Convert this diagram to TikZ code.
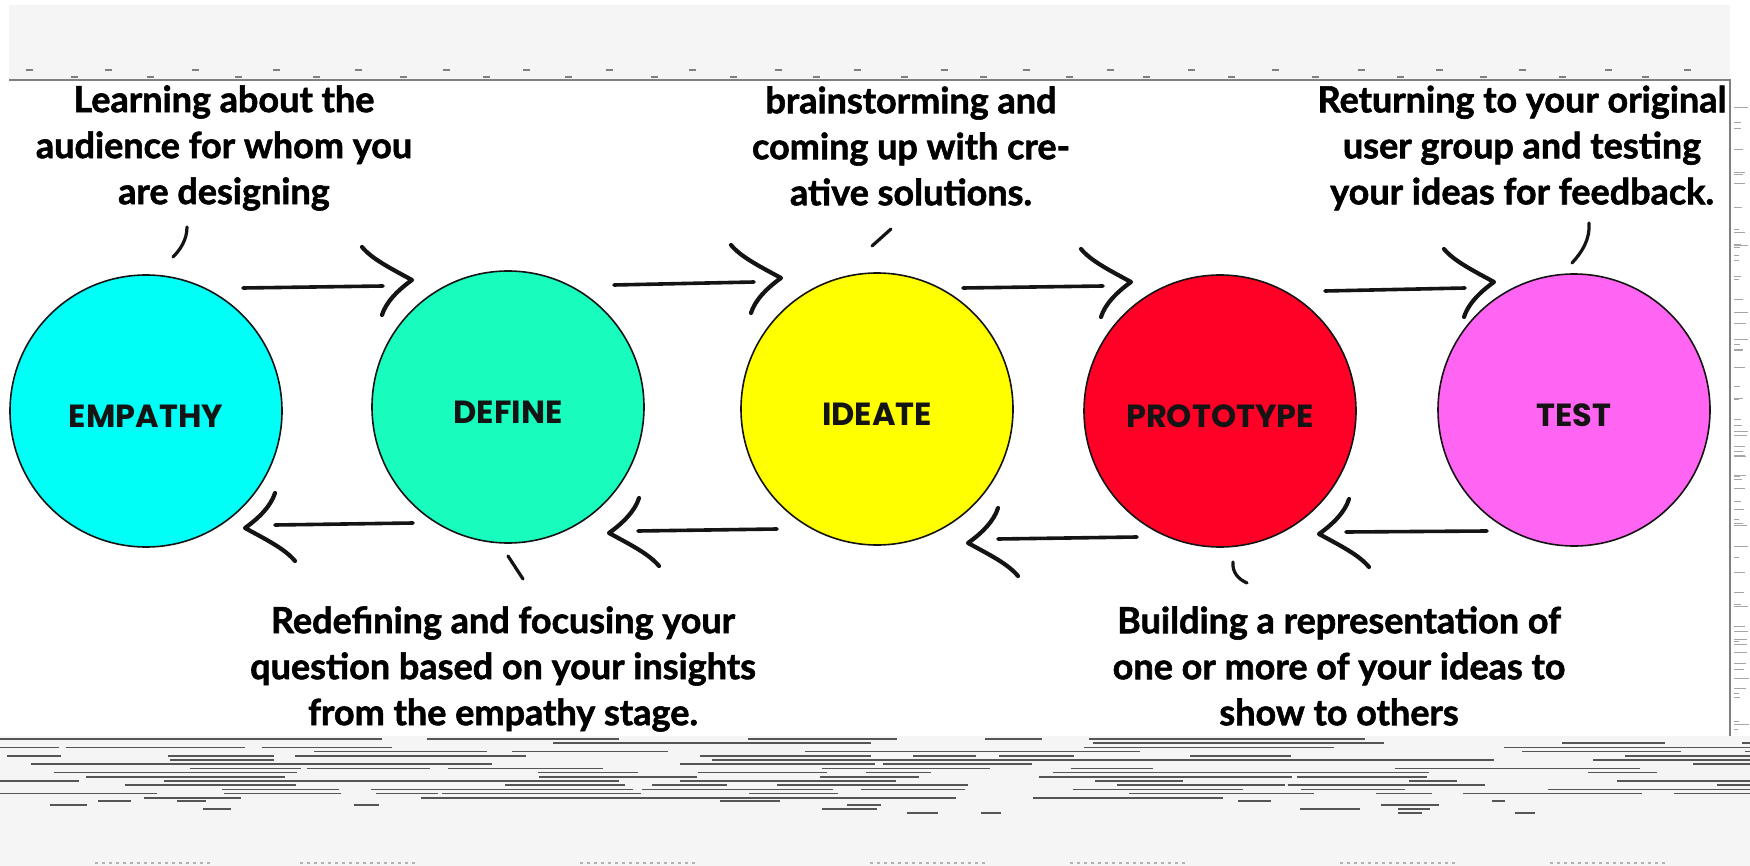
\documentclass[tikz,border=0pt]{standalone}
\usepackage{fontspec}
\setmainfont{Lato}[BoldFeatures={FakeBold=1.6}]
\newfontfamily\labelfont{Poppins}
\usetikzlibrary{calc}

\definecolor{empcol}{RGB}{0,255,246}
\definecolor{defcol}{RGB}{24,252,190}
\definecolor{idecol}{RGB}{255,255,0}
\definecolor{procol}{RGB}{255,0,38}
\definecolor{tstcol}{RGB}{255,100,242}
\definecolor{bandgray}{RGB}{245,245,245}
\definecolor{inkgray}{RGB}{85,85,85}
\definecolor{ink}{RGB}{20,20,20}

\begin{document}
\begin{tikzpicture}[x=1pt,y=-1pt,
  stage/.style={circle,draw=ink,line width=1.6pt,minimum size=272pt,inner sep=0pt,
    font=\labelfont\bfseries\fontsize{32}{33}\selectfont,text=ink,
    text height=33pt,text depth=0pt},
  note/.style={align=center,inner sep=0pt,text=black,
    font=\bfseries\fontsize{36}{46}\selectfont},
  shaft/.style={line width=3.6pt,line cap=round,draw=ink},
  tickmark/.style={line width=3.2pt,line cap=round,draw=ink},
  bandline/.style={line width=1.5pt,draw=inkgray},
  chev/.pic={\draw[line width=4.2pt,line cap=round,line join=round,draw=ink]
    (-50,-33) .. controls (-40,-21) and (-22,-12) .. (0,0)
    .. controls (-14,10) and (-26,22) .. (-30,35);}
]
\useasboundingbox (0,0) rectangle (1750,866);
\fill[white] (0,0) rectangle (1750,866);

% top band with its scattered specks
\fill[bandgray] (9,5) rectangle (1730,80);
\draw[line width=1.2pt,draw=gray] (9,80) -- (1730,80) -- (1730,737);
\pgfmathsetseed{5}
\foreach \i in {0,...,40}{
  \pgfmathsetmacro{\xa}{22+\i*41.5+rnd*8}
  \pgfmathsetmacro{\ya}{mod(\i,2)==0 ? 70 : 77}
  \draw[line width=1.4pt,draw=gray] (\xa,\ya) -- ++(7,0);
}

% right margin marks
\foreach \i in {1,...,70}{
  \pgfmathsetmacro{\ya}{100+rnd*630}
  \pgfmathsetmacro{\len}{4+rnd*11}
  \draw[line width=1pt,draw=gray!70] (1734,\ya) -- ++(\len,0);
}

% bottom band: rows of dashes
\fill[bandgray] (0,736) rectangle (1750,866);
\begin{scope}
\clip (0,736) rectangle (1750,866);
\foreach \r in {0,...,14}{
  \foreach \k in {1,...,12}{
    \pgfmathsetmacro{\ya}{739+\r*4.2}
    \pgfmathsetmacro{\xa}{rnd*1850-80}
    \pgfmathsetmacro{\len}{40+rnd*160}
    \draw[bandline] (\xa,\ya) -- ++(\len,0);
  }
}
\foreach \r in {0,...,3}{
  \foreach \k in {1,...,5}{
    \pgfmathsetmacro{\ya}{801+\r*4}
    \pgfmathsetmacro{\xa}{rnd*1750}
    \pgfmathsetmacro{\len}{12+rnd*50}
    \draw[bandline] (\xa,\ya) -- ++(\len,0);
  }
}
\foreach \xa in {95,300,580,870,1070,1340,1550}{
  \draw[line width=1.2pt,draw=gray!60,dash pattern=on 3pt off 4pt] (\xa,863) -- ++(115,0);
}
\end{scope}

% the five stages
\node[stage,fill=empcol] (emp) at (146,411) {EMPATHY};
\node[stage,fill=defcol] (def) at (508,407) {DEFINE};
\node[stage,fill=idecol] (ide) at (877,409) {IDEATE};
\node[stage,fill=procol] (pro) at (1220,411) {PROTOTYPE};
\node[stage,fill=tstcol] (tst) at (1574,410) {TEST};

% descriptions
\node[note] (nemp) at (224,148) {Learning about the\\audience for whom you\\are designing};
\node[note] (nide) at (911,146) {brainstorming and\\coming up with cre-\\ative solutions.};
\node[note] (ntst) at (1522,148) {Returning to your original\\user group and testing\\your ideas for feedback.};
\node[note] (ndef) at (503,669) {Redefining and focusing your\\question based on your insights\\from the empathy stage.};
\node[note] (npro) at (1339,666) {Building a representation of\\one or more of your ideas to\\show to others};

% forward arrows
\coordinate (f1a) at (243,288); \coordinate (f1b) at (383,286); \coordinate (f1t) at (412,280);
\coordinate (f2a) at (614,285); \coordinate (f2b) at (754,282); \coordinate (f2t) at (781,278);
\coordinate (f3a) at (963,288); \coordinate (f3b) at (1103,286); \coordinate (f3t) at (1131,282);
\coordinate (f4a) at (1325,291); \coordinate (f4b) at (1465,288); \coordinate (f4t) at (1494,282);
\foreach \n in {1,2,3,4}{
  \draw[shaft] (f\n a) -- (f\n b);
  \pic at (f\n t) {chev};
}

% backward arrows
\coordinate (b1a) at (413,523); \coordinate (b1b) at (275,525); \coordinate (b1t) at (245,528);
\coordinate (b2a) at (777,529); \coordinate (b2b) at (638,531); \coordinate (b2t) at (609,533);
\coordinate (b3a) at (1137,537); \coordinate (b3b) at (998,539); \coordinate (b3t) at (968,543);
\coordinate (b4a) at (1487,531); \coordinate (b4b) at (1346,532); \coordinate (b4t) at (1319,534);
\foreach \n in {1,2,3,4}{
  \draw[shaft] (b\n a) -- (b\n b);
  \pic[rotate=180] at (b\n t) {chev};
}

% pointer strokes from the descriptions
\coordinate (p1a) at (187,227); \coordinate (p1b) at (173,257);
\coordinate (p2a) at (891,229); \coordinate (p2b) at (872,246);
\coordinate (p3a) at (1589,223); \coordinate (p3b) at (1572,263);
\coordinate (p4a) at (508,556); \coordinate (p4b) at (523,579);
\coordinate (p5a) at (1233,562); \coordinate (p5b) at (1247,583);
\draw[tickmark] (p1a) .. controls (187,240) and (180,250) .. (p1b);
\draw[tickmark] (p2a) -- (p2b);
\draw[tickmark] (p3a) .. controls (1590,240) and (1582,252) .. (p3b);
\draw[tickmark] (p4a) -- (p4b);
\draw[tickmark] (p5a) .. controls (1232,572) and (1238,579) .. (p5b);
\end{tikzpicture}
\end{document}
